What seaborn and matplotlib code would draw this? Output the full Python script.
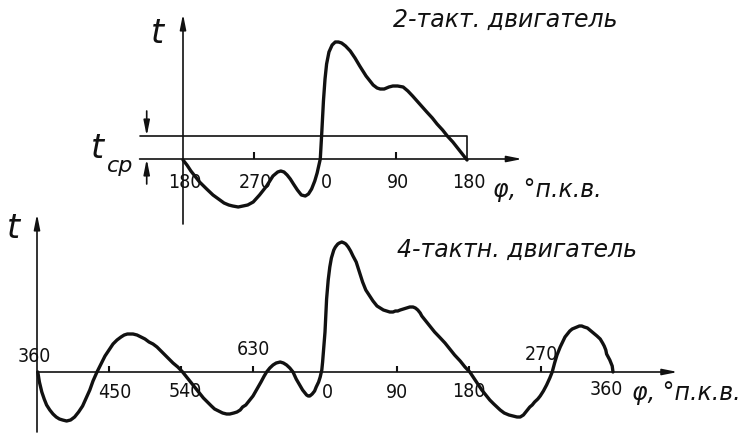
import matplotlib
matplotlib.use("Agg")
import matplotlib.pyplot as plt
import seaborn as sns

# 2-stroke engine, crank angle (deg, continuous) and tangential force t
phi_2 = [180, 185, 190, 196, 201, 210, 218, 225, 232, 238, 243, 250, 256, 262, 269,
         277, 286, 294, 300, 304, 308, 312, 316, 320, 325, 330, 335, 339, 343, 347,
         350, 352, 354, 356, 358, 360, 362, 365, 369, 373, 377, 381, 386, 392, 398,
         404, 412, 421, 426, 430, 435, 441, 446, 452, 459, 465, 471, 480, 489, 496,
         502, 509, 515, 522, 528, 534, 540]
t_2 = [-1, -6, -12, -18, -23, -30, -36, -40, -44, -46, -47, -48, -47, -46, -43,
       -36, -27, -17, -13, -12, -13, -16, -20, -25, -31, -36, -37, -35, -30, -22,
       -14, -7, 0, 28, 58, 80, 95, 107, 114, 117, 117, 116, 113, 108, 101,
       93, 83, 74, 71, 70, 70, 72, 73, 73, 72, 68, 63, 55, 47, 41,
       35, 29, 23, 17, 11, 5, -1]
t_mean_2 = 23
ticks_2 = [180, 270, 360, 450, 540]
ticklabels_2 = ["180", "270", "0", "90", "180"]

# 4-stroke engine
phi_4 = [361, 363, 366, 369, 372, 376, 380, 384, 388, 392, 397, 402, 407, 412, 417,
         421, 426, 430, 435, 440, 445, 450, 455, 460, 465, 469, 473, 477, 480, 485,
         490, 495, 500, 505, 510, 515, 520, 525, 530, 536, 542, 547, 552, 558, 564,
         568, 573, 578, 582, 587, 592, 597, 601, 606, 610, 614, 617, 621, 624, 627,
         630, 635, 640, 644, 647, 651, 655, 659, 664, 668, 672, 676, 680, 684, 689,
         692, 695, 697, 699, 701, 704, 707, 709, 712, 714, 716, 717, 718, 719, 720,
         721, 722, 724, 726, 728, 731, 733, 736, 738, 741, 744, 746, 749, 752, 755,
         759, 763, 767, 771, 776, 780, 785, 789, 793, 797, 801, 805, 808, 811, 814,
         818, 822, 826, 830, 833, 836, 839, 841, 846, 851, 857, 863, 870, 876, 882,
         889, 895, 901, 906, 911, 916, 922, 926, 931, 935, 939, 944, 950, 955, 960,
         964, 968, 972, 976, 979, 982, 986, 989, 993, 997, 1001, 1004, 1007, 1010, 1014,
         1017, 1020, 1023, 1026, 1029, 1032, 1035, 1038, 1041, 1044, 1048, 1051, 1054, 1057, 1060,
         1064, 1067, 1069, 1071, 1072, 1074, 1076, 1078, 1079, 1080]
t_4 = [0, -10, -20, -27, -33, -38, -42, -45, -47, -48, -49, -48, -45, -40, -34,
       -27, -18, -9, 0, 8, 16, 22, 28, 32, 35, 37, 38, 38, 38, 37,
       35, 33, 30, 28, 25, 21, 17, 13, 9, 5, 0, -5, -10, -16, -22,
       -26, -30, -34, -37, -39, -41, -42, -42, -41, -40, -38, -35, -33, -30, -27,
       -24, -17, -10, -4, 0, 4, 7, 9, 10, 9, 7, 4, 0, -7, -14,
       -18, -21, -23, -24, -24, -22, -19, -15, -10, -5, 2, 10, 20, 30, 40,
       57, 73, 92, 105, 114, 122, 125, 128, 129, 130, 129, 128, 125, 121, 116,
       110, 100, 90, 82, 76, 71, 66, 64, 62, 61, 60, 60, 61, 61, 62,
       63, 64, 65, 65, 64, 62, 59, 56, 51, 46, 40, 35, 29, 23, 17,
       11, 5, 0, -6, -12, -18, -24, -28, -32, -35, -38, -41, -43, -44, -45,
       -45, -43, -39, -35, -33, -30, -27, -24, -19, -13, -6, 0, 9, 17, 25,
       30, 35, 38, 41, 43, 44, 45, 46, 46, 45, 44, 42, 40, 38, 36,
       33, 29, 26, 22, 18, 15, 12, 8, 6, 0]
ticks_4 = [360, 450, 540, 630, 720, 810, 900, 990, 1080]
ticklabels_4 = ["360", "450", "540", "630", "0", "90", "180", "270", "360"]

sns.set_style("white")
plt.rcParams["font.family"] = ["DejaVu Sans"]

fig = plt.figure(figsize=(7.46, 4.39), dpi=100)
ax1 = fig.add_axes([0, 0, 1, 1])
ax2 = fig.add_axes([0, 0, 1, 1])
for ax in (ax1, ax2):
    ax.set_facecolor("none")
    ax.axis("off")
ax1.set_xlim(180 - 183 / 0.789, 180 + 563 / 0.789)
ax1.set_ylim(160 - 439, 160)
ax2.set_xlim(360 - 37 / 0.8, 360 + 709 / 0.8)
ax2.set_ylim(373 - 439, 373)

ink = "#111111"
arrow = dict(arrowstyle="-|>,head_length=0.9,head_width=0.18", color=ink, lw=1.2,
             shrinkA=0, shrinkB=0)
num = dict(fontsize=14, color=ink, ha="center", va="center", fontstretch="condensed")
hand = dict(color=ink, style="italic", ha="center", va="center")
curve = dict(sort=False, color=ink, lw=2.4, solid_joinstyle="round", solid_capstyle="round")

# --- 2-stroke ---
ax1.annotate("", xy=(610, 0), xytext=(125, 0), arrowprops=arrow)
ax1.annotate("", xy=(180, 145), xytext=(180, -65), arrowprops=arrow)
ax1.plot([125, 540, 540], [t_mean_2, t_mean_2, 0], color=ink, lw=1.2)
ax1.annotate("", xy=(134, t_mean_2), xytext=(134, 48), arrowprops=arrow)
ax1.annotate("", xy=(134, 0), xytext=(134, -25), arrowprops=arrow)
ax1.vlines([270, 450], 0, 7, color=ink, lw=1.5)
sns.lineplot(x=phi_2, y=t_2, ax=ax1, **curve)
for x, lab in zip(ticks_2, ticklabels_2):
    ax1.text(x + 2, -23, lab, **num)
ax1.text(147, 127, "t", fontsize=24, **hand)
ax1.text(71, 12, "t", fontsize=24, **hand)
ax1.text(100, -6, "ср", fontsize=16, **hand)
ax1.text(588, 140, "2-такт. двигатель", fontsize=17, **hand)
ax1.text(573, -30, "φ, °п.к.в.", fontsize=17, color=ink, style="italic",
         ha="left", va="center")

# --- 4-stroke ---
ax2.annotate("", xy=(1161, 0), xytext=(360, 0), arrowprops=arrow)
ax2.annotate("", xy=(360, 158), xytext=(360, -60), arrowprops=arrow)
ax2.vlines([450, 540, 630, 810, 900, 990], 0, 6, color=ink, lw=1.5)
sns.lineplot(x=phi_4, y=t_4, ax=ax2, **curve)
label_y = [16, -20, -19, 23, -20, -20, -19, 18, -17]
for x, lab, y in zip(ticks_4, ticklabels_4, label_y):
    dx = {360: -3, 450: 7, 540: 5, 630: 1, 720: 3, 1080: -8}.get(x, 0)
    ax2.text(x + dx, y, lab, **num)
ax2.text(331, 145, "t", fontsize=24, **hand)
ax2.text(960, 123, "4-тактн. двигатель", fontsize=17, **hand)
ax2.text(1104, -20, "φ, °п.к.в.", fontsize=17, color=ink, style="italic",
         ha="left", va="center")

fig.savefig("out.png", dpi=100)
